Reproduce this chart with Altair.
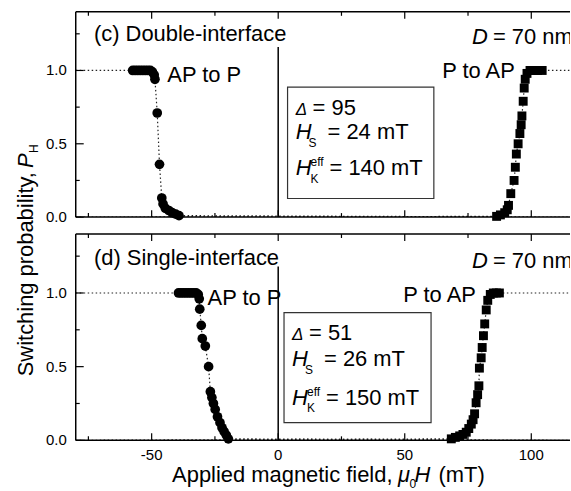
import altair as alt
import pandas as pd

# ---------------------------------------------------------------------------
# Switching probability P_H versus applied field (D = 70 nm junctions)
# ---------------------------------------------------------------------------

# (c) double-interface: AP -> P branch (circles)
dbl_ap_p_field = [-57.5, -56.5, -55.5, -54.5, -53.5, -52.5, -51.5, -50.5, -49.7, -49.0,
                  -48.7, -47.8, -46.9, -46.0, -45.5, -44.6, -43.2, -41.9, -40.5, -39.2]
dbl_ap_p_prob = [1.0, 1.0, 1.0, 1.0, 1.0, 1.0, 1.0, 1.0, 0.99, 0.97,
                 0.94, 0.71, 0.36, 0.13, 0.09, 0.06, 0.045, 0.03, 0.02, 0.01]
# (c) double-interface: P -> AP branch (squares)
dbl_p_ap_field = [86.3, 87.8, 89.5, 90.5, 91.0, 91.9, 93.2, 93.7, 94.1, 94.8, 95.5,
                  96.0, 96.3, 96.8, 97.2, 97.6, 98.3, 99.5, 101.0, 102.5, 104.3]
dbl_p_ap_prob = [0.005, 0.015, 0.03, 0.05, 0.08, 0.16, 0.25, 0.34, 0.43, 0.50, 0.57,
                 0.63, 0.69, 0.79, 0.88, 0.94, 0.98, 1.0, 1.0, 1.0, 1.0]

# (d) single-interface: AP -> P branch (circles)
sgl_ap_p_field = [-39.4, -38.4, -37.4, -36.4, -35.4, -34.4, -33.4, -32.4, -31.6, -31.2,
                  -31.0, -30.4, -30.0, -28.8, -27.5, -26.8, -26.2, -25.6, -24.9, -24.0,
                  -23.0, -22.2, -21.4, -20.5, -19.7]
sgl_ap_p_prob = [1.0, 1.0, 1.0, 1.0, 1.0, 1.0, 1.0, 1.0, 0.99, 0.96,
                 0.89, 0.78, 0.69, 0.64, 0.50, 0.33, 0.29, 0.25, 0.21, 0.16,
                 0.12, 0.085, 0.06, 0.035, 0.01]
# (d) single-interface: P -> AP branch (squares)
sgl_p_ap_field = [68.4, 70.0, 71.7, 73.0, 74.3, 75.3, 76.3, 77.0, 77.6, 78.2, 78.8, 79.3,
                  79.5, 80.2, 80.6, 81.1, 81.6, 82.2, 82.8, 83.8, 85.0, 86.2, 87.4]
sgl_p_ap_prob = [0.01, 0.02, 0.03, 0.04, 0.055, 0.08, 0.11, 0.14, 0.18, 0.255, 0.31, 0.37,
                 0.49, 0.56, 0.63, 0.71, 0.79, 0.885, 0.95, 0.99, 1.0, 1.0, 1.0]

# axis ranges and ticks
X_DOMAIN = [-80, 115.3]
Y_DOMAIN = [0.0, 1.4]
X_LABELS = [-50, 0, 50, 100]
X_MINOR = [-75, -25, 25, 75]
Y_LABELS = [0.0, 0.5, 1.0]
Y_MINOR = [0.25, 0.75, 1.25]

FONT = "Liberation Sans"
W = 496
H_TOP, H_BOT = 206, 207
MAIN = 22
SMALL = 12
TICK_FONT = 15

xs = alt.Scale(domain=X_DOMAIN, nice=False, zero=False)
ys = alt.Scale(domain=Y_DOMAIN, nice=False, zero=False)
ONE = pd.DataFrame({"k": [0]})


def X(field):
    return alt.X(field, scale=xs, axis=None)


def Y(field):
    return alt.Y(field, scale=ys, axis=None)


def note(text, x, y, size=MAIN, italic=False, dx=0, dy=0, align="left", clip=False):
    """Text placed at data coordinates (alphabetic baseline)."""
    return alt.Chart(ONE).mark_text(
        text=text, font=FONT, fontSize=size, fontStyle="italic" if italic else "normal",
        align=align, baseline="alphabetic", dx=dx, dy=dy, color="black", clip=clip,
    ).encode(x=alt.XDatum(x, scale=xs, axis=None), y=alt.YDatum(y, scale=ys, axis=None))


def pnote(text, px, py, size=MAIN, italic=False, dx=0, dy=0, angle=0):
    """Text placed in pixels relative to the panel's plot area (axis titles)."""
    kw = dict(text=text, font=FONT, fontSize=size, fontStyle="italic" if italic else "normal",
              align="left", baseline="alphabetic", dx=dx, dy=dy, color="black")
    if angle:
        kw["angle"] = angle
    return alt.Chart(ONE).mark_text(**kw).encode(x=alt.value(px), y=alt.value(py))


def tick_layer(values, h, length, where):
    df = pd.DataFrame({"v": values})
    base = alt.Chart(df).mark_rule(color="black", strokeWidth=1.2)
    if where == "left":
        return base.encode(y=Y("v:Q"), x=alt.value(0), x2=alt.value(length))
    if where == "top":
        return base.encode(x=X("v:Q"), y=alt.value(0), y2=alt.value(length))
    return base.encode(x=X("v:Q"), y=alt.value(h), y2=alt.value(h - length))


def panel(ap_x, ap_y, pa_x, pa_y, h, zero_top, texts, box, show_x_labels):
    circles = pd.DataFrame({"field": ap_x, "prob": ap_y})
    squares = pd.DataFrame({"field": pa_x, "prob": pa_y})

    # dotted guide lines run across the whole sweep
    ap_line = pd.DataFrame({"field": [X_DOMAIN[0]] + ap_x + [X_DOMAIN[1]],
                            "prob": [1.0] + ap_y + [0.0]})
    ap_line["branch"] = "AP to P"
    pa_line = pd.DataFrame({"field": [X_DOMAIN[0]] + pa_x + [X_DOMAIN[1]],
                            "prob": [0.0] + pa_y + [1.0]})
    pa_line["branch"] = "P to AP"
    lines = pd.concat([ap_line, pa_line], ignore_index=True)
    lines["i"] = range(len(lines))

    guide = alt.Chart(lines).mark_line(
        color="#222", strokeWidth=1.2, strokeDash=[1.5, 2.5], clip=True
    ).encode(x=X("field:Q"), y=Y("prob:Q"), detail="branch:N", order="i:Q")
    circ = alt.Chart(circles).mark_point(
        shape="circle", filled=True, size=95, color="black", opacity=1
    ).encode(x=X("field:Q"), y=Y("prob:Q"))
    sq = alt.Chart(squares).mark_point(
        shape="square", filled=True, size=80, color="black", opacity=1
    ).encode(x=X("field:Q"), y=Y("prob:Q"))

    # plot frame: left, bottom and top edges
    edges = pd.DataFrame({
        "x": [X_DOMAIN[0], X_DOMAIN[0], X_DOMAIN[0]],
        "x2": [X_DOMAIN[0], X_DOMAIN[1], X_DOMAIN[1]],
        "y": [Y_DOMAIN[0], Y_DOMAIN[0], Y_DOMAIN[1]],
        "y2": [Y_DOMAIN[1], Y_DOMAIN[0], Y_DOMAIN[1]],
    })
    frame_lines = alt.Chart(edges).mark_rule(color="black", strokeWidth=1.5).encode(
        x=X("x:Q"), x2="x2:Q", y=Y("y:Q"), y2="y2:Q")

    zero = alt.Chart(pd.DataFrame({"x": [0.0], "y": [0.0], "y2": [zero_top]})).mark_rule(
        color="black", strokeWidth=1.5).encode(x=X("x:Q"), y=Y("y:Q"), y2="y2:Q")

    legend_box = alt.Chart(pd.DataFrame({"x": [box[0]], "x2": [box[1]],
                                         "y": [box[2]], "y2": [box[3]]})).mark_rect(
        fill="white", stroke="#333", strokeWidth=1.2).encode(
        x=X("x:Q"), x2="x2:Q", y=Y("y:Q"), y2="y2:Q")

    ticks = [
        tick_layer(X_LABELS, h, 7, "bottom"), tick_layer(X_MINOR, h, 4, "bottom"),
        tick_layer(X_LABELS, h, 7, "top"), tick_layer(X_MINOR, h, 4, "top"),
        tick_layer(Y_LABELS, h, 8, "left"), tick_layer(Y_MINOR, h, 4, "left"),
    ]

    ylab_df = pd.DataFrame({"v": Y_LABELS, "t": [f"{v:.1f}" for v in Y_LABELS]})
    ylab = alt.Chart(ylab_df).mark_text(
        font=FONT, fontSize=TICK_FONT, align="right", baseline="middle", color="black"
    ).encode(y=Y("v:Q"), x=alt.value(-9), text="t:N")
    labels = [ylab]
    if show_x_labels:
        xlab_df = pd.DataFrame({"v": X_LABELS, "t": [str(v) for v in X_LABELS]})
        labels.append(alt.Chart(xlab_df).mark_text(
            font=FONT, fontSize=TICK_FONT, align="center", baseline="alphabetic",
            color="black").encode(x=X("v:Q"), y=alt.value(h + 20), text="t:N"))

    layers = [legend_box, zero, guide, circ, sq, frame_lines] + ticks + labels + texts
    return alt.layer(*layers).properties(width=W, height=h)


def box_text(x, y1, y2, y3, delta, hs, hk):
    return [
        note("\u0394", x, y1, size=17, italic=True),
        note("= " + delta, x, y1, dx=17),
        note("H", x, y2, italic=True),
        note("S", x, y2, size=SMALL, dx=13, dy=8),
        note("= " + hs, x, y2, dx=32),
        note("H", x, y3, italic=True),
        note("eff", x, y3, size=SMALL, dx=15, dy=-9),
        note("K", x, y3, size=SMALL, dx=15, dy=8),
        note("= " + hk, x, y3, dx=34),
    ]


texts_c = [
    note("(c) Double-interface", -72.8, 1.199),
    note("D", 76.6, 1.18, italic=True, clip=True),
    note("= 70 nm", 76.6, 1.18, dx=21, clip=True),
    note("AP to P", -43.8, 0.92),
    note("P to AP", 93.5, 0.95, align="right"),
] + box_text(6.9, 0.694, 0.535, 0.286, "95", "24 mT", "140 mT")

texts_d = [
    note("(d) Single-interface", -72.8, 1.19),
    note("D", 76.6, 1.167, italic=True, clip=True),
    note("= 70 nm", 76.6, 1.167, dx=21, clip=True),
    note("AP to P", -27.9, 0.919),
    note("P to AP", 78.1, 0.941, align="right"),
] + box_text(5.5, 0.682, 0.502, 0.243, "51", "26 mT", "150 mT") + [
    # x-axis title: Applied magnetic field, mu_0 H (mT)
    pnote("Applied magnetic field, ", 96.7, 249.3),
    pnote("\u03bc", 323.3, 249.3, italic=True),
    pnote("0", 335.0, 255.3, size=SMALL),
    pnote("H", 340.0, 249.3, italic=True),
    pnote("(mT)", 364.0, 249.3),
    # y-axis title: Switching probability, P_H
    pnote("Switching probability, ", -43.3, 142.7, angle=270),
    pnote("P", -43.3, 142.7, italic=True, dx=209, angle=270),
    pnote("H", -43.3, 142.7, size=SMALL, dx=224, dy=5, angle=270),
]

top = panel(dbl_ap_p_field, dbl_ap_p_prob, dbl_p_ap_field, dbl_p_ap_prob,
            H_TOP, 1.16, texts_c, (3.7, 61.5, 0.127, 0.886), False)
bottom = panel(sgl_ap_p_field, sgl_ap_p_prob, sgl_p_ap_field, sgl_p_ap_prob,
               H_BOT, 1.18, texts_d, (2.3, 60.4, 0.12, 0.867), True)

chart = alt.vconcat(top, bottom, spacing=17, bounds="flush").properties(
    padding={"left": 14, "top": 10, "right": 0, "bottom": 0}
).configure_view(stroke=None)

chart.save("out.html", embed_options={"renderer": "svg", "actions": False})
